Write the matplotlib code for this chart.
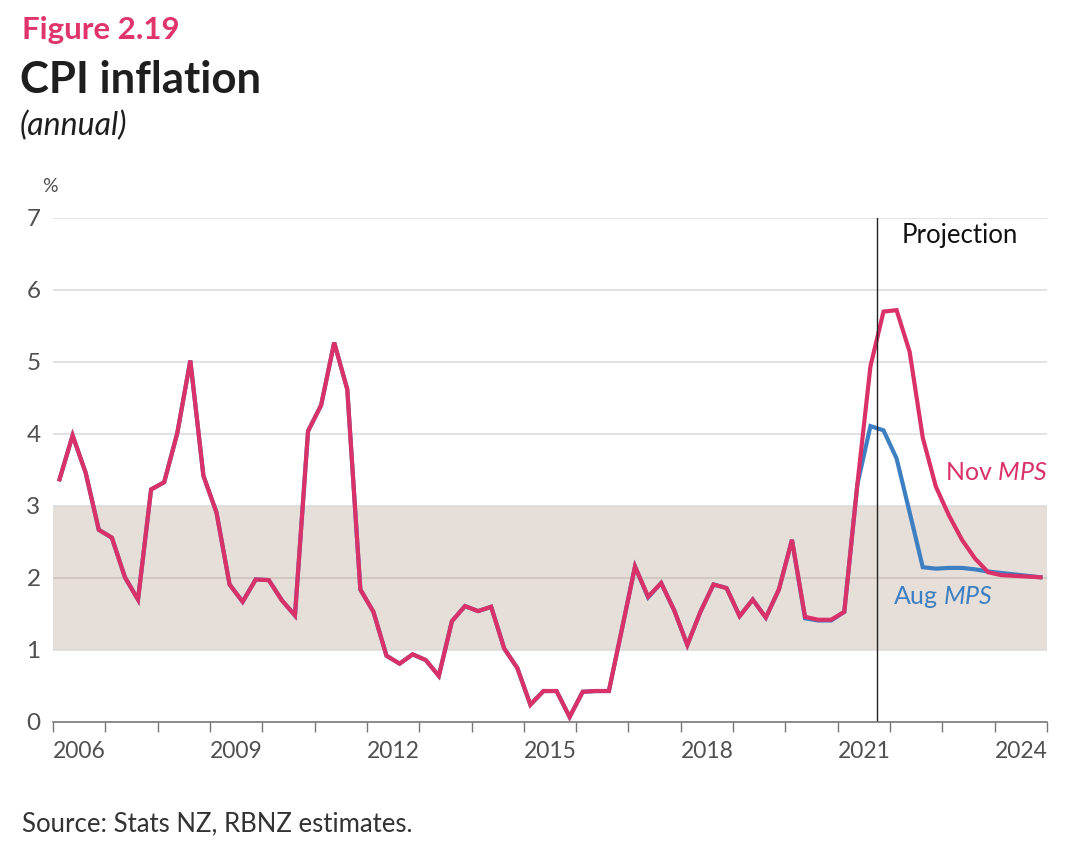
import matplotlib
matplotlib.use("Agg")
import matplotlib.pyplot as plt
import numpy as np

# ---- data ----
start_year = 2006
nov_mps = [3.37, 3.98, 3.46, 2.67,
           2.56, 2.01, 1.70, 3.23,
           3.33, 4.01, 5.02, 3.42,
           2.91, 1.91, 1.67, 1.98,
           1.97, 1.69, 1.48, 4.04,
           4.40, 5.27, 4.62, 1.84,
           1.53, 0.92, 0.81, 0.94,
           0.86, 0.64, 1.40, 1.61,
           1.54, 1.60, 1.02, 0.75,
           0.24, 0.43, 0.43, 0.07,
           0.42, 0.43, 0.43, 1.29,
           2.16, 1.74, 1.93, 1.55,
           1.07, 1.53, 1.91, 1.86,
           1.47, 1.70, 1.45, 1.84,
           2.53, 1.46, 1.42, 1.42,
           1.53, 3.30, 4.94, 5.70,
           5.72, 5.14, 3.95, 3.27,
           2.87, 2.53, 2.27, 2.08,
           2.04, 2.03, 2.02, 2.01]
aug_mps = [3.37, 3.98, 3.46, 2.67,
           2.56, 2.01, 1.70, 3.23,
           3.33, 4.01, 5.02, 3.42,
           2.91, 1.91, 1.67, 1.98,
           1.97, 1.69, 1.48, 4.04,
           4.40, 5.27, 4.62, 1.84,
           1.53, 0.92, 0.81, 0.94,
           0.86, 0.64, 1.40, 1.61,
           1.54, 1.60, 1.02, 0.75,
           0.24, 0.43, 0.43, 0.07,
           0.42, 0.43, 0.43, 1.29,
           2.16, 1.73, 1.93, 1.55,
           1.07, 1.53, 1.91, 1.86,
           1.47, 1.70, 1.45, 1.84,
           2.53, 1.44, 1.41, 1.41,
           1.53, 3.30, 4.11, 4.05,
           3.66, 2.91, 2.15, 2.13,
           2.14, 2.14, 2.12, 2.09,
           2.07, 2.05, 2.03, 2.01]
year_labels = ["2006", "2009", "2012", "2015", "2018", "2021", "2024"]
y_ticks = [0, 1, 2, 3, 4, 5, 6, 7]
target_band = (1, 3)
projection_start = 2021.75

PINK = "#DA3168"
BLUE = "#3C7FC3"
BAND = "#E6DED8"
GREY_TXT = "#505050"

plt.rcParams["font.family"] = ["Lato", "DejaVu Sans"]
plt.rcParams["mathtext.fontset"] = "custom"
plt.rcParams["mathtext.rm"] = "Lato"
plt.rcParams["mathtext.it"] = "Lato:italic"

n = len(nov_mps)
x = start_year + (np.arange(n) + 0.5) / 4.0

fig = plt.figure(figsize=(10.8, 8.58), dpi=100)
ax = fig.add_axes([53/1080, 136/858, (1047-53)/1080, (722-218)/858])

ax.axhspan(target_band[0], target_band[1], color=BAND, zorder=0, lw=0)
for yv in y_ticks[1:]:
    inside = target_band[0] < yv < target_band[1]
    ax.axhline(yv, color="#CBC2BC" if inside else "#DADADA", lw=1.1, zorder=1)

ax.plot(x, aug_mps, color=BLUE, lw=3.0, zorder=3, solid_joinstyle="miter")
ax.plot(x, nov_mps, color=PINK, lw=3.0, zorder=4, solid_joinstyle="miter")
ax.axvline(projection_start, color="#222222", lw=1.0, zorder=5)

ax.set_xlim(2006, 2025)
ax.set_ylim(0, 7)

ax.set_yticks(y_ticks)
ax.set_yticklabels([str(v) for v in y_ticks])
ax.tick_params(axis="y", length=0, pad=9, labelsize=17.5, labelcolor=GREY_TXT)

ax.set_xticks(np.arange(2006, 2026))
ax.set_xticklabels([])
ax.set_xticks([int(l) + 0.5 for l in year_labels], minor=True)
ax.set_xticklabels(year_labels, minor=True)
ax.tick_params(axis="x", which="major", direction="out", length=7, width=1, color="#777777")
ax.tick_params(axis="x", which="minor", length=0, pad=14, labelsize=16.5, labelcolor=GREY_TXT)

for s in ["top", "right", "left"]:
    ax.spines[s].set_visible(False)
ax.spines["bottom"].set_color("#777777")
ax.spines["bottom"].set_linewidth(1.2)
ax.spines["bottom"].set_zorder(6)

ax.text(2022.23, 6.75, "Projection", fontsize=18.5, color="#111111", va="center", ha="left")
ax.text(2023.05, 3.47, r"Nov $\mathit{MPS}$", fontsize=18, color=PINK, va="center", ha="left")
ax.text(2022.05, 1.74, r"Aug $\mathit{MPS}$", fontsize=18, color=BLUE, va="center", ha="left")

fig.text(22/1080, 1 - 30/858, "Figure 2.19", fontsize=22.5, color="#E0356B",
         fontweight="bold", va="center", ha="left")
fig.text(20/1080, 1 - 80/858, "CPI inflation", fontsize=31.5, color="#1e1e1e",
         fontweight="bold", va="center", ha="left")
fig.text(20/1080, 1 - 126/858, "(annual)", fontsize=23, color="#1e1e1e",
         style="italic", va="center", ha="left")
fig.text(42/1080, 1 - 187/858, "%", fontsize=14, color=GREY_TXT, va="center", ha="left")
fig.text(22/1080, 1 - 824/858, "Source: Stats NZ, RBNZ estimates.", fontsize=18.5,
         color="#333333", va="center", ha="left")

fig.savefig("out.png", dpi=100, facecolor="white")
